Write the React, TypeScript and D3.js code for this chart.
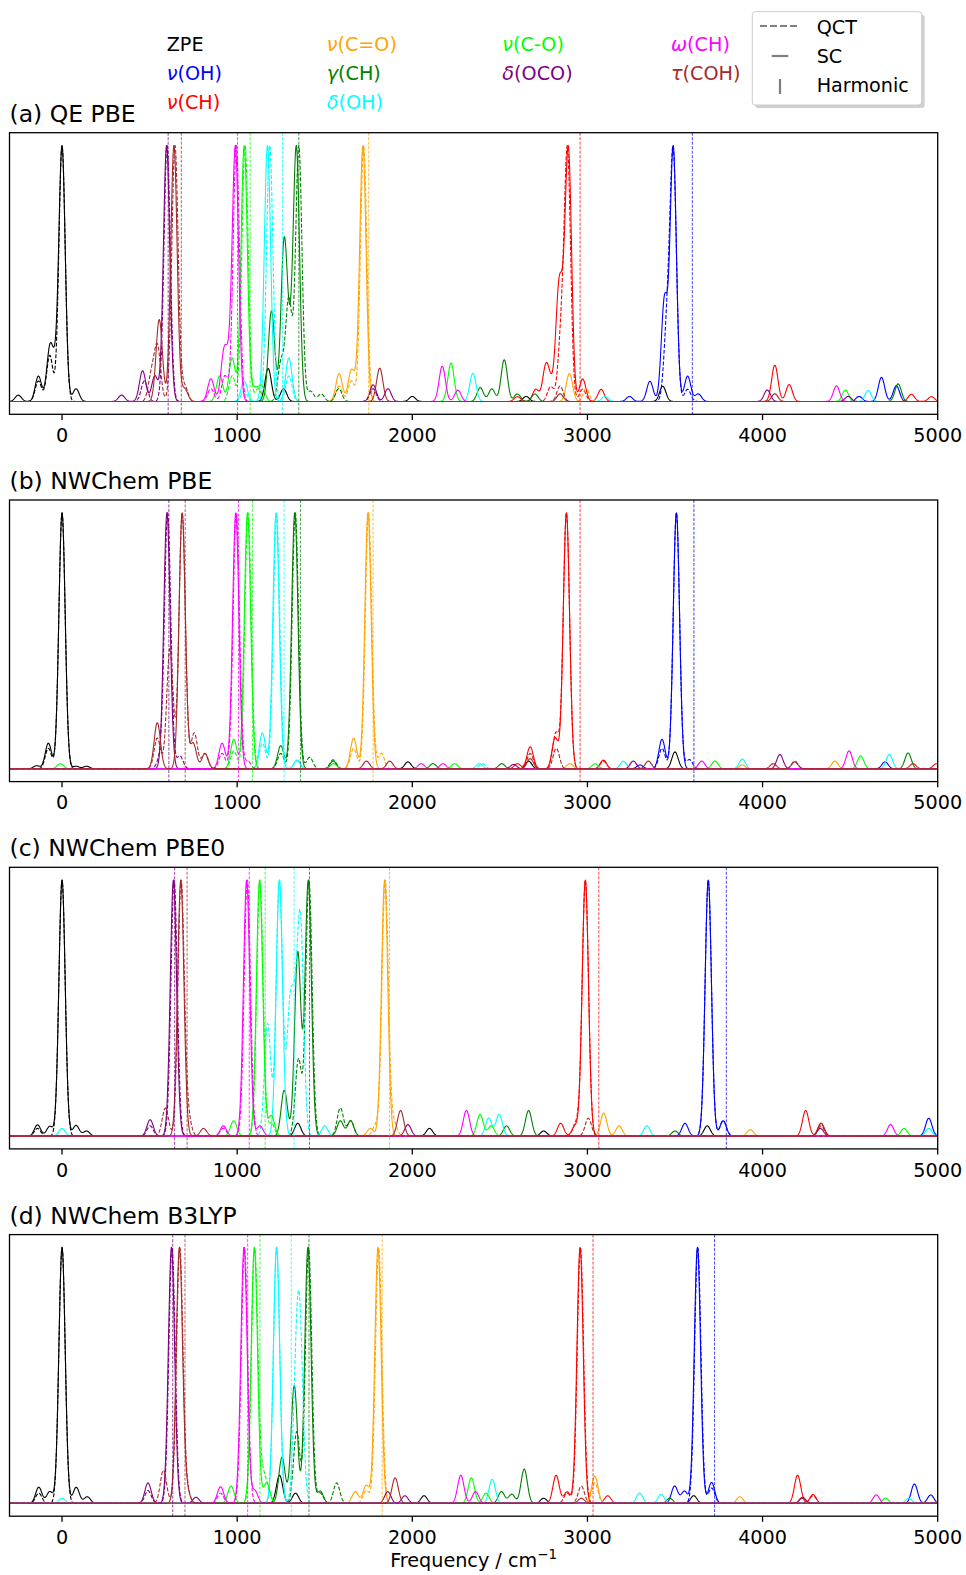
import React, { useMemo } from 'react';
import * as d3 from 'd3';

// ---------- data ----------
const MODES = ['ZPE', 'ν(OH)', 'ν(CH)', 'ν(C=O)', 'γ(CH)', 'δ(OH)', 'ν(C-O)', 'δ(OCO)', 'ω(CH)', 'τ(COH)'];
const COLORS = ['black', 'blue', 'red', 'orange', 'green', 'cyan', 'lime', 'purple', 'magenta', 'brown'];
const PANEL_TITLES = ['(a) QE PBE', '(b) NWChem PBE', '(c) NWChem PBE0', '(d) NWChem B3LYP'];
const X_TICKS = [0, 1000, 2000, 3000, 4000, 5000];
const METHOD_LABELS = ['QCT', 'SC', 'Harmonic'];

// harmonic frequencies per mode (index as MODES; ZPE has none)
const HARM_A = [null, 3599, 2958, 1751, 1352, 1259, 1074, 606, 1002, 681];
const HARM_B = [null, 3608, 2958, 1776, 1361, 1268, 1087, 610, 1008, 703];
const HARM_C = [null, 3793, 3065, 1870, 1413, 1325, 1160, 643, 1069, 714];
const HARM_D = [null, 3726, 3032, 1828, 1410, 1309, 1130, 632, 1060, 702];

// spectral peaks: [mode, frequency (cm-1), relative intensity]
const SC_A = [
  [0, 0, 1], [0, -70, 0.2], [0, -40, 0.1], [0, -135, 0.1], [0, 80, 0.05], [0, -250, 0.025], [0, 1177, 0.13], [0, 1265, 0.05], [0, 3430, 0.06], [0, 2000, 0.02], [0, 2650, 0.02],
  [1, 3490, 1], [1, 3440, 0.4], [1, 3357, 0.08], [1, 3572, 0.1], [1, 3633, 0.03], [1, 4679, 0.095], [1, 4764, 0.062], [1, 4551, 0.02], [1, 3240, 0.02],
  [2, 2892, 1], [2, 2836, 0.42], [2, 2862, 0.2], [2, 2762, 0.14], [2, 2705, 0.05], [2, 2790, 0.06], [2, 2973, 0.093], [2, 3078, 0.05], [2, 4070, 0.15], [2, 4152, 0.07], [2, 4850, 0.03], [2, 4964, 0.02], [2, 2600, 0.02],
  [3, 1718, 1], [3, 1582, 0.11], [3, 1652, 0.12], [3, 2897, 0.11], [3, 1685, 0.03],
  [4, 1338, 1], [4, 1268, 0.62], [4, 1300, 0.15], [4, 1196, 0.36], [4, 2525, 0.166], [4, 2454, 0.05], [4, 2388, 0.055], [4, 4774, 0.07], [4, 2600, 0.03], [4, 2700, 0.03],
  [5, 1173, 1], [5, 1295, 0.17], [5, 1040, 0.08], [5, 2346, 0.11], [5, 4603, 0.043], [5, 3100, 0.02],
  [6, 1040, 1], [6, 971, 0.17], [6, 900, 0.1], [6, 2221, 0.15], [6, 4473, 0.045], [6, 1140, 0.06], [6, 1100, 0.05],
  [7, 597, 1], [7, 460, 0.12], [7, 340, 0.025], [7, 530, 0.1], [7, 1776, 0.065], [7, 1861, 0.05], [7, 4027, 0.045], [7, 4489, 0.02],
  [8, 990, 1], [8, 925, 0.19], [8, 955, 0.1], [8, 850, 0.09], [8, 2171, 0.14], [8, 2260, 0.045], [8, 4422, 0.062],
  [9, 639, 1], [9, 555, 0.32], [9, 700, 0.05], [9, 1814, 0.13], [9, 2844, 0.03], [9, 4070, 0.03],
];
const QCT_A = [
  [0, 0, 1], [0, -70, 0.18], [0, -135, 0.08],
  [1, 3490, 1], [1, 3455, 0.3], [1, 3572, 0.05],
  [2, 2886, 1], [2, 2850, 0.25], [2, 2790, 0.06], [2, 2973, 0.05],
  [3, 1722, 1], [3, 1582, 0.06], [3, 1652, 0.08], [3, 2992, 0.05],
  [4, 1352, 1], [4, 1295, 0.4], [4, 1250, 0.15], [4, 1420, 0.04], [4, 1480, 0.03], [4, 1580, 0.05],
  [5, 1186, 1], [5, 1295, 0.1], [5, 1040, 0.04],
  [6, 1045, 1], [6, 971, 0.1], [6, 1120, 0.05],
  [7, 600, 1], [7, 470, 0.08], [7, 1776, 0.05],
  [8, 995, 1], [8, 930, 0.1], [8, 850, 0.05],
  [9, 645, 1], [9, 545, 0.21], [9, 510, 0.1], [9, 700, 0.06], [9, 2844, 0.06],
];

const SC_B = [
  [0, 0, 1], [0, -78, 0.1], [0, -145, 0.012], [0, 80, 0.01], [0, 140, 0.01], [0, 1975, 0.027], [0, 2664, 0.03], [0, 3500, 0.066],
  [1, 3508, 1], [1, 3426, 0.115], [1, 4699, 0.027], [1, 3300, 0.015],
  [2, 2880, 1], [2, 2816, 0.12], [2, 2673, 0.086], [2, 3091, 0.034], [2, 4061, 0.02], [2, 4859, 0.02], [2, 4992, 0.02], [2, 2600, 0.02],
  [3, 1747, 1], [3, 1665, 0.12], [3, 4413, 0.03], [3, 3884, 0.015], [3, 2900, 0.02],
  [4, 1329, 1], [4, 1249, 0.09], [4, 1548, 0.03], [4, 2118, 0.02], [4, 2511, 0.02], [4, 4831, 0.062],
  [5, 1222, 1], [5, 1144, 0.14], [5, 1342, 0.034], [5, 2384, 0.02], [5, 3205, 0.03], [5, 3884, 0.038], [5, 4724, 0.056],
  [6, 1059, 1], [6, 981, 0.115], [6, -10, 0.02], [6, 2241, 0.02], [6, 3044, 0.02], [6, 3728, 0.03], [6, 4560, 0.05], [6, 1550, 0.02],
  [7, 599, 1], [7, 2578, 0.017], [7, 3262, 0.03], [7, 4099, 0.056],
  [8, 992, 1], [8, 914, 0.1], [8, 2051, 0.02], [8, 2175, 0.02], [8, 3652, 0.03], [8, 4494, 0.07],
  [9, 686, 1], [9, 544, 0.18], [9, 749, 0.1], [9, 816, 0.06], [9, 1738, 0.03], [9, 1871, 0.03], [9, 2673, 0.04], [9, 3348, 0.03], [9, 4184, 0.027],
];
const QCT_B = [
  [0, 0, 1], [0, -78, 0.08],
  [1, 3508, 1], [1, 3426, 0.08], [1, 3582, 0.036],
  [2, 2880, 1], [2, 2820, 0.14], [2, 2673, 0.06], [2, 3091, 0.03],
  [3, 1750, 1], [3, 1665, 0.08], [3, 1823, 0.06],
  [4, 1332, 1], [4, 1249, 0.06], [4, 1414, 0.045], [4, 1548, 0.035],
  [5, 1225, 1], [5, 1144, 0.1], [5, 1342, 0.03], [5, 2400, 0.02],
  [6, 1062, 1], [6, 981, 0.07],
  [7, 603, 1], [7, 673, 0.05], [7, 560, 0.04],
  [8, 995, 1], [8, 914, 0.06], [8, 1060, 0.03],
  [9, 686, 1], [9, 616, 0.47], [9, 755, 0.14], [9, 544, 0.12], [9, 816, 0.06], [9, 2822, 0.08], [9, 4184, 0.03],
];

const SC_C = [
  [0, 0, 1], [0, -140, 0.044], [0, -70, 0.038], [0, 80, 0.042], [0, 140, 0.02], [0, 1346, 0.05], [0, 2098, 0.03], [0, 3684, 0.04], [0, 2750, 0.02],
  [1, 3690, 1], [1, 3775, 0.06], [1, 3557, 0.05], [1, 4949, 0.07],
  [2, 2988, 1], [2, 2847, 0.05], [2, 2930, 0.04], [2, 4246, 0.1], [2, 4334, 0.05],
  [3, 1842, 1], [3, 3093, 0.09], [3, 3181, 0.04], [3, 3930, 0.025], [3, 1760, 0.03],
  [4, 1406, 1], [4, 1346, 0.72], [4, 1269, 0.18], [4, 2664, 0.1], [4, 2538, 0.04], [4, 1648, 0.06], [4, 1589, 0.06], [4, 3500, 0.02],
  [5, 1241, 1], [5, 3339, 0.04], [5, 4949, 0.03], [5, 2436, 0.07], [5, 2496, 0.085], [5, 0, 0.03], [5, 1500, 0.04],
  [6, 1128, 1], [6, 1195, 0.08], [6, 2387, 0.085], [6, 2450, 0.04], [6, 4808, 0.03], [6, 980, 0.06],
  [7, 636, 1], [7, 503, 0.064], [7, 1975, 0.045], [7, 4330, 0.03],
  [8, 1054, 1], [8, 921, 0.04], [8, 2309, 0.1], [8, 4731, 0.045], [8, 1130, 0.04],
  [9, 678, 1], [9, 808, 0.03], [9, 1933, 0.1], [9, 4334, 0.05],
];
const QCT_C = [
  [0, 0, 1], [0, -140, 0.03],
  [1, 3690, 1], [1, 3775, 0.06],
  [2, 2988, 1], [2, 2935, 0.05], [2, 4334, 0.04],
  [3, 1845, 1], [3, 1895, 0.05], [3, 1790, 0.04],
  [4, 1410, 1], [4, 1350, 0.3], [4, 1589, 0.11], [4, 1648, 0.06],
  [5, 1241, 1], [5, 1174, 0.44], [5, 1300, 0.45], [5, 1330, 0.35], [5, 1362, 0.8],
  [6, 1130, 1], [6, 1195, 0.05],
  [7, 640, 1], [7, 503, 0.04],
  [8, 1058, 1], [8, 921, 0.03],
  [9, 680, 1], [9, 590, 0.11], [9, 720, 0.07], [9, 3005, 0.07],
];

const SC_D = [
  [0, 0, 1], [0, -133, 0.063], [0, -70, 0.046], [0, 81, 0.063], [0, 144, 0.026], [0, 1242, 0.11], [0, 1333, 0.04], [0, 2067, 0.03], [0, 3607, 0.03], [0, 2750, 0.02],
  [1, 3628, 1], [1, 3498, 0.068], [1, 3554, 0.048], [1, 3709, 0.082], [1, 4867, 0.076], [1, 4960, 0.033],
  [2, 2958, 1], [2, 2821, 0.11], [2, 2884, 0.045], [2, 3116, 0.03], [2, 4200, 0.11], [2, 4288, 0.035],
  [3, 1804, 1], [3, 1737, 0.07], [3, 1674, 0.046], [3, 3042, 0.107], [3, 3870, 0.026],
  [4, 1404, 1], [4, 1326, 0.46], [4, 1256, 0.18], [4, 1474, 0.048], [4, 2509, 0.046], [4, 2568, 0.036], [4, 2639, 0.134], [4, 3470, 0.02],
  [5, 1225, 1], [5, 2456, 0.094], [5, 3298, 0.04], [5, 3421, 0.035], [5, 4835, 0.02], [5, 0, 0.02],
  [6, 1098, 1], [6, 965, 0.068], [6, 1168, 0.08], [6, 2337, 0.1], [6, 2421, 0.04], [6, 4702, 0.02],
  [7, 625, 1], [7, 491, 0.08], [7, 765, 0.024], [7, 1860, 0.046], [7, 1958, 0.03], [7, 4228, 0.024],
  [8, 1039, 1], [8, 905, 0.065], [8, 2277, 0.11], [8, 2361, 0.046], [8, 4649, 0.033], [8, 1100, 0.05],
  [9, 670, 1], [9, 712, 0.05], [9, 1902, 0.1], [9, 2965, 0.02], [9, 4228, 0.02],
];
const QCT_D = [
  [0, 0, 1], [0, -133, 0.04],
  [1, 3630, 1], [1, 3709, 0.06],
  [2, 2960, 1], [2, 2884, 0.04], [2, 4288, 0.03],
  [3, 1808, 1], [3, 1737, 0.05], [3, 3042, 0.08],
  [4, 1408, 1], [4, 1340, 0.28], [4, 1568, 0.08], [4, 1474, 0.04],
  [5, 1225, 1], [5, 1338, 0.45], [5, 1360, 0.55],
  [6, 1100, 1], [6, 1145, 0.1], [6, 1175, 0.05],
  [7, 628, 1], [7, 491, 0.05],
  [8, 1042, 1], [8, 905, 0.04],
  [9, 672, 1], [9, 579, 0.13], [9, 712, 0.05], [9, 2965, 0.068],
];

const PANELS = [
  { title: PANEL_TITLES[0], sc: SC_A, qct: QCT_A, harm: HARM_A },
  { title: PANEL_TITLES[1], sc: SC_B, qct: QCT_B, harm: HARM_B },
  { title: PANEL_TITLES[2], sc: SC_C, qct: QCT_C, harm: HARM_C },
  { title: PANEL_TITLES[3], sc: SC_D, qct: QCT_D, harm: HARM_D },
];

// ---------- layout ----------
const W = 966;
const H = 1575;
const LEFT = 9.5;
const RIGHT = 937.7;
const TOP0 = 132.7;
const STEP_Y = 367.3;
const PH = 281.6;
const X_MIN = -300;
const X_MAX = 5000;
const SIGMA = 18;
const SAMPLE = 2;
const FONT = 'DejaVu Sans, sans-serif';

function buildCurve(peaks: number[][], mode: number): [number, number][] {
  const ps = peaks.filter((p) => p[0] === mode);
  const pts: [number, number][] = [];
  let max = 0;
  for (let x = X_MIN; x <= X_MAX; x += SAMPLE) {
    let y = 0;
    for (const p of ps) {
      const d = x - p[1];
      y += p[2] * Math.exp((-d * d) / (2 * SIGMA * SIGMA));
    }
    if (y > max) max = y;
    pts.push([x, y]);
  }
  if (max > 0) for (const p of pts) p[1] /= max;
  return pts;
}

function ModeLabel({ label, x, y, color }: { label: string; x: number; y: number; color: string }) {
  const greek = /^[νγδωτ]/.test(label);
  return (
    <text x={x} y={y} fill={color} fontSize={19.2} fontFamily={FONT}>
      {greek ? (
        <>
          <tspan fontStyle="italic">{label[0]}</tspan>
          <tspan>{label.slice(1)}</tspan>
        </>
      ) : (
        label
      )}
    </text>
  );
}

function Panel({ idx }: { idx: number }) {
  const panel = PANELS[idx];
  const top = TOP0 + idx * STEP_Y;
  const x = d3.scaleLinear().domain([X_MIN, X_MAX]).range([LEFT, RIGHT]);
  const y = d3.scaleLinear().domain([-0.05, 1.05]).range([top + PH, top]);
  const line = d3
    .line<[number, number]>()
    .x((d) => x(d[0]))
    .y((d) => y(d[1]));

  const paths = useMemo(() => {
    const out: { d: string; color: string; dashed: boolean }[] = [];
    MODES.forEach((_, m) => {
      out.push({ d: line(buildCurve(panel.sc, m)) || '', color: COLORS[m], dashed: false });
      out.push({ d: line(buildCurve(panel.qct, m)) || '', color: COLORS[m], dashed: true });
    });
    return out;
  }, [idx]);

  const clipId = `clip${idx}`;
  return (
    <g>
      <defs>
        <clipPath id={clipId}>
          <rect x={LEFT} y={top} width={RIGHT - LEFT} height={PH} />
        </clipPath>
      </defs>
      <text x={LEFT} y={top - 11} fontSize={23.5} fontFamily={FONT} fill="black">
        {panel.title}
      </text>
      <g clipPath={`url(#${clipId})`}>
        {paths.map((p, i) => (
          <path
            key={i}
            d={p.d}
            fill="none"
            stroke={p.color}
            strokeWidth={1.1}
            strokeDasharray={p.dashed ? '4,1.8' : undefined}
            strokeLinejoin="round"
          />
        ))}
        {panel.harm.map((h, m) =>
          h == null ? null : (
            <line
              key={`h${m}`}
              x1={x(h)}
              x2={x(h)}
              y1={top}
              y2={top + PH}
              stroke={COLORS[m]}
              strokeWidth={1}
              strokeOpacity={0.75}
              strokeDasharray="3,1.5"
            />
          )
        )}
      </g>
      <rect x={LEFT} y={top} width={RIGHT - LEFT} height={PH} fill="none" stroke="black" strokeWidth={1.3} />
      {X_TICKS.map((t) => (
        <g key={t}>
          <line x1={x(t)} x2={x(t)} y1={top + PH} y2={top + PH + 5.6} stroke="black" strokeWidth={1.3} />
          <text x={x(t)} y={top + PH + 27.7} textAnchor="middle" fontSize={19.2} fontFamily={FONT} fill="black">
            {t}
          </text>
        </g>
      ))}
    </g>
  );
}

export default function App() {
  const colX = [166.7, 326.7, 502.3, 671];
  const rowY = [50.5, 79.8, 109.1];
  // matplotlib column-major fill: 3,3,2,2
  const colCounts = [3, 3, 2, 2];
  const labelPos: { x: number; y: number }[] = [];
  colCounts.forEach((n, c) => {
    for (let r = 0; r < n; r++) labelPos.push({ x: colX[c], y: rowY[r] });
  });

  return (
    <svg
      width={W}
      height={H}
      style={{ position: 'absolute', left: 0, top: 0, display: 'block', background: 'white' }}
      xmlns="http://www.w3.org/2000/svg"
    >
      <rect x={0} y={0} width={W} height={H} fill="white" />
      {MODES.map((m, i) => (
        <ModeLabel key={m} label={m} x={labelPos[i].x} y={labelPos[i].y} color={COLORS[i]} />
      ))}
      {/* method legend */}
      <g>
        <rect x={755.3} y={14.7} width={169.4} height={93.3} rx={3} fill="#b0b0b0" opacity={0.6} />
        <rect x={752.3} y={11.7} width={169.4} height={93.3} rx={3} fill="white" stroke="#cccccc" strokeWidth={1} />
        <line x1={760} x2={799.3} y1={26} y2={26} stroke="#7f7f7f" strokeWidth={2.2} strokeDasharray="7,3" />
        <line x1={771.7} x2={788.3} y1={56} y2={56} stroke="#7f7f7f" strokeWidth={2.2} />
        <line x1={780} x2={780} y1={79} y2={94} stroke="#7f7f7f" strokeWidth={2.2} />
        {METHOD_LABELS.map((l, i) => (
          <text key={l} x={816.7} y={34.3 + i * 29} fontSize={19.2} fontFamily={FONT} fill="black">
            {l}
          </text>
        ))}
      </g>
      {PANELS.map((_, i) => (
        <Panel key={i} idx={i} />
      ))}
      <text x={(LEFT + RIGHT) / 2} y={1567} textAnchor="middle" fontSize={19.2} fontFamily={FONT} fill="black">
        Frequency / cm
        <tspan dy={-8} fontSize={13.5}>
          −1
        </tspan>
      </text>
    </svg>
  );
}
